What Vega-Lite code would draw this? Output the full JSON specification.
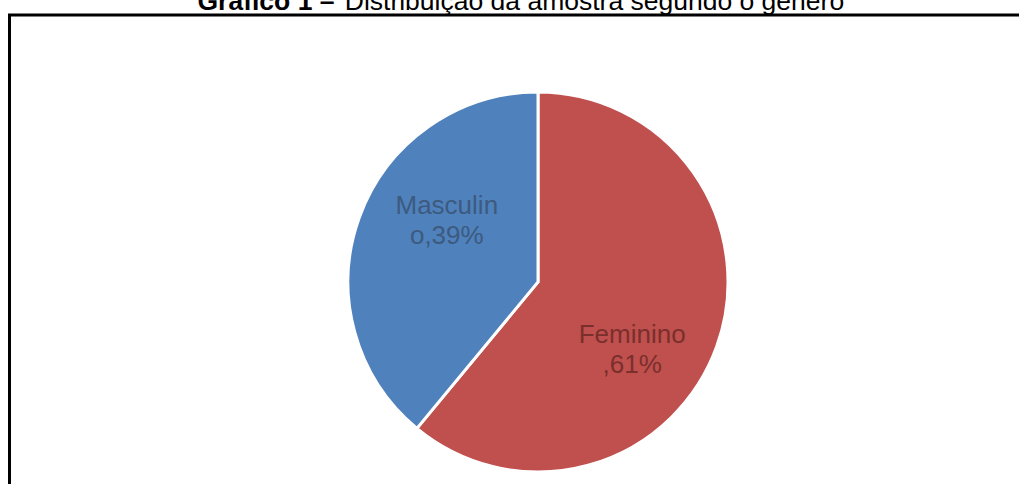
{
  "$schema": "https://vega.github.io/schema/vega-lite/v6.json",
  "autosize": "none",
  "padding": {"left": 9.5, "top": 15, "right": -47.5, "bottom": -65},
  "width": 1057,
  "height": 534,
  "background": "white",
  "view": {"stroke": "black", "strokeWidth": 3, "fill": "white"},
  "title": {
    "text": "Gráfico 1 –",
    "subtitle": "\u200b\u00a0\u00a0\u00a0\u00a0\u00a0\u00a0\u00a0\u00a0\u00a0\u00a0\u00a0\u00a0\u00a0\u00a0\u00a0\u00a0\u00a0\u00a0\u00a0\u00a0Distribuição da amostra segundo o gênero",
    "anchor": "start",
    "frame": "group",
    "dx": 188,
    "offset": 0,
    "font": "Liberation Sans",
    "fontSize": 26.5,
    "fontWeight": "bold",
    "color": "black",
    "subtitleFont": "Liberation Sans",
    "subtitleFontSize": 26.5,
    "subtitleFontWeight": "normal",
    "subtitleColor": "black",
    "subtitlePadding": -26.5
  },
  "data": {
    "values": [
      {"genero": "Feminino", "valor": 61, "label": "Feminino\n,61%"},
      {"genero": "Masculino", "valor": 39, "label": "Masculin\no,39%"}
    ]
  },
  "encoding": {
    "theta": {"field": "valor", "type": "quantitative", "stack": true},
    "order": {"field": "genero", "type": "nominal", "sort": "ascending"}
  },
  "layer": [
    {
      "mark": {"type": "arc", "outerRadius": 190, "stroke": "white", "strokeWidth": 3},
      "encoding": {
        "color": {
          "field": "genero",
          "type": "nominal",
          "scale": {"domain": ["Feminino", "Masculino"], "range": ["#C0504D", "#4F81BD"]},
          "legend": null
        }
      }
    },
    {
      "mark": {"type": "text", "radius": 115, "dx": 17, "dy": -37, "font": "Liberation Sans", "fontSize": 26, "lineHeight": 30, "lineBreak": "\n", "fill": "#3D5A7F", "align": "center", "baseline": "middle"},
      "encoding": {
        "text": {"condition": {"test": "datum.genero === 'Masculino'", "field": "label"}, "value": ""}
      }
    },
    {
      "mark": {"type": "text", "radius": 115, "dx": -14, "dy": 14, "font": "Liberation Sans", "fontSize": 26, "lineHeight": 30, "lineBreak": "\n", "fill": "#7A2F2D", "align": "center", "baseline": "middle"},
      "encoding": {
        "text": {"condition": {"test": "datum.genero === 'Feminino'", "field": "label"}, "value": ""}
      }
    }
  ]
}
